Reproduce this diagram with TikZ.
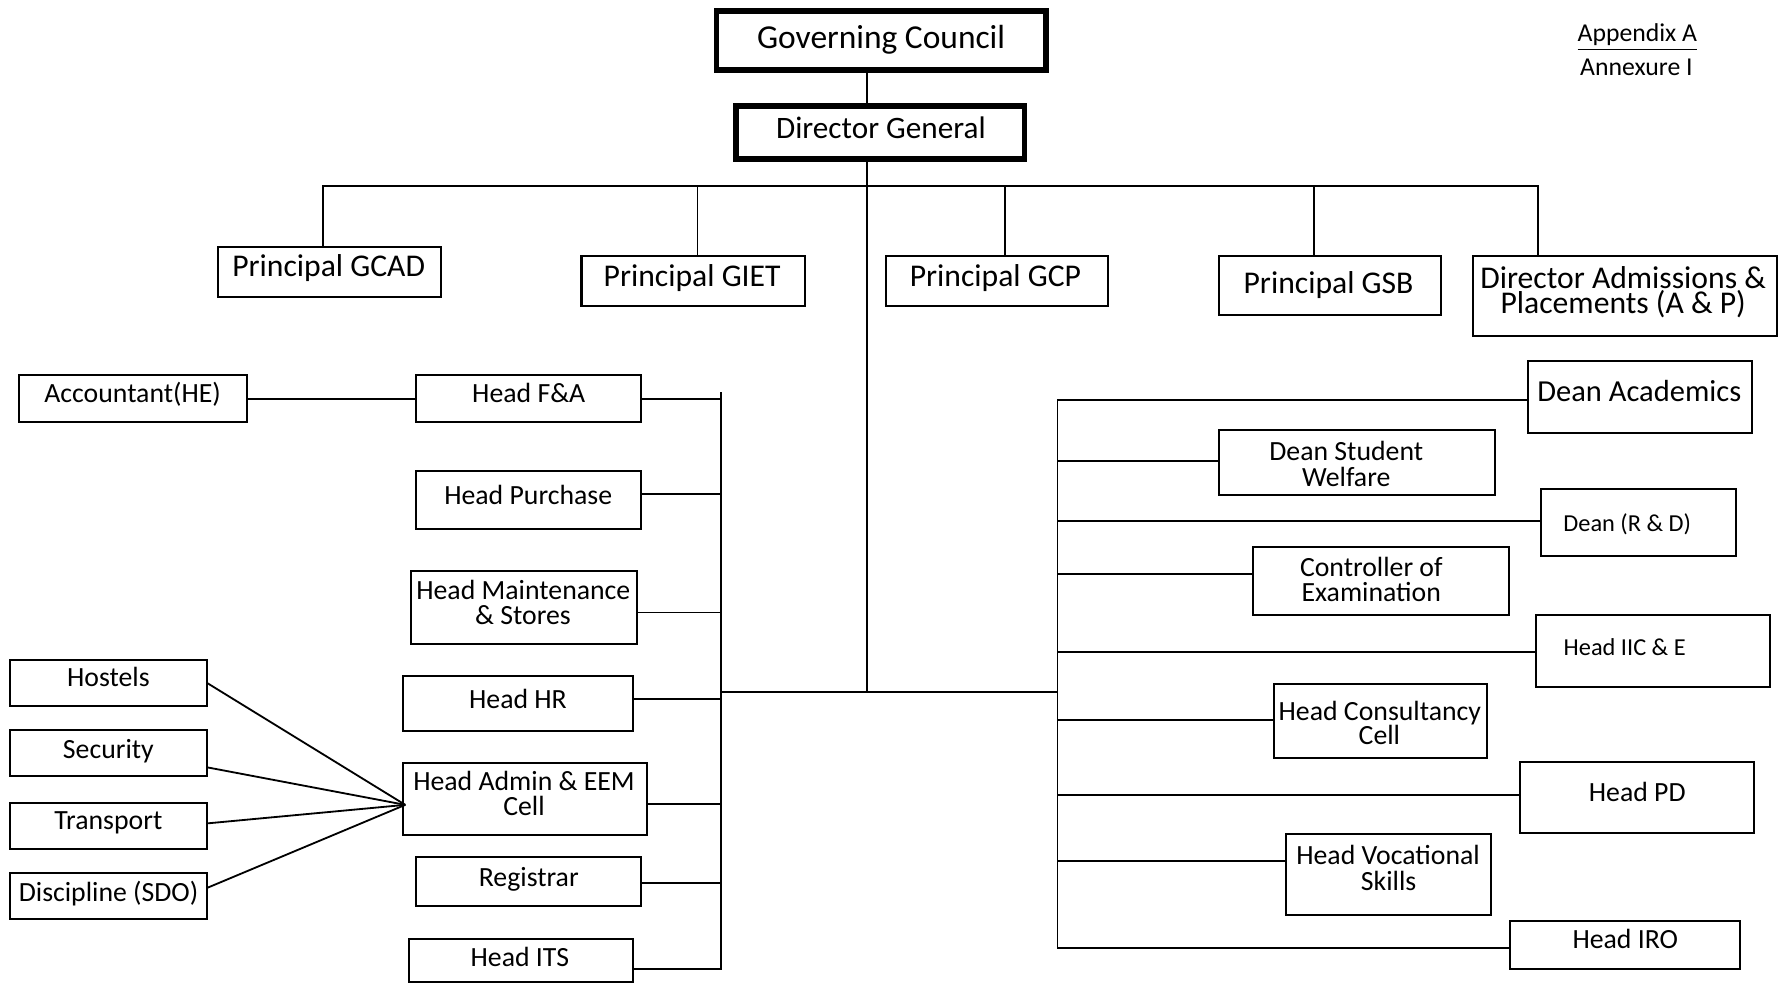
\documentclass[tikz,border=0pt]{standalone}
\usepackage{fontspec}
\setmainfont{Carlito}
\usetikzlibrary{calc}
\newcommand\fGC{\fontsize{14.7}{16}\selectfont}
\newcommand\fDG{\fontsize{13.7}{15}\selectfont}
\newcommand\fP{\fontsize{13.9}{15}\selectfont}
\newcommand\fPtwo{\fontsize{13.9}{11.4}\selectfont}
\newcommand\fDA{\fontsize{13.4}{15}\selectfont}
\newcommand\fR{\fontsize{12.2}{14}\selectfont}
\newcommand\fS{\fontsize{10.7}{12}\selectfont}
\newcommand\fAp{\fontsize{11.3}{13}\selectfont}
\tikzset{
  box/.style={draw, line width=0.9pt, rectangle, inner sep=0pt, outer sep=0pt, anchor=north west},
  topbox/.style={box, line width=2.4pt},
  lbl/.style={inner sep=0pt, outer sep=0pt, anchor=base, font=\fR},
  conn/.style={line width=0.8pt, line join=miter},
}
\newcommand\obox[6][]{\node[box,#1,minimum width={(#5-#3)*0.5pt},minimum height={(#6-#4)*0.5pt}] (#2) at (#3,#4) {};}
\begin{document}
\begin{tikzpicture}[x=0.5pt,y=-0.5pt]
\useasboundingbox (0,0) rectangle (1568,864);
% ---- boxes ----
\obox[topbox]{gc}{629.5}{9.7}{919}{61.5}
\obox[topbox]{dg}{646.5}{93.3}{900}{139.5}
\obox{gcad}{191.6}{216.7}{387.3}{261.2}
\obox{giet}{510.8}{224.6}{707.5}{268.8}
\obox{gcp}{778.1}{224.6}{973.3}{268.8}
\obox{gsb}{1071}{224.6}{1265.7}{276.7}
\obox{dap}{1293.6}{224.6}{1561.3}{294.9}
\obox{acc}{17}{329.7}{216.7}{370.7}
\obox{hfa}{365.3}{329.7}{562.9}{370.7}
\obox{hpur}{365.3}{413.7}{562.9}{464.7}
\obox{hms}{360.7}{501.6}{559.5}{566}
\obox{hhr}{353.8}{593.5}{556.1}{641.9}
\obox{hadm}{353.8}{670}{568}{733.5}
\obox{reg}{365.8}{753.1}{562.9}{795.6}
\obox{hits}{359.4}{824.8}{556.1}{863}
\obox{hos}{9}{579.8}{181.8}{619.9}
\obox{sec}{9}{641.3}{181.8}{681.7}
\obox{tra}{9}{705.1}{181.8}{745.5}
\obox{dis}{9}{767.2}{181.8}{807.6}
\obox{dac}{1342}{317}{1539}{380.6}
\obox{dsw}{1071}{378}{1313}{434.8}
\obox{drd}{1354}{429.8}{1525}{488.4}
\obox{coe}{1100.6}{480.2}{1325.4}{540.2}
\obox{iic}{1349}{540.2}{1554.5}{603.2}
\obox{hcc}{1119.5}{601.1}{1306}{666.1}
\obox{hpd}{1335}{669.6}{1540.4}{731.7}
\obox{hvs}{1129.6}{732.9}{1309.5}{803.8}
\obox{iro}{1326.7}{809}{1528.5}{851.5}
% ---- texts ----
\node[lbl,font=\fGC] (t-gc) at (774,42.5) {Governing Council};
\node[lbl,font=\fDG] (t-dg) at (773.8,121.5) {Director General};
\node[lbl,font=\fP] (t-gcad) at (288.7,243) {Principal GCAD};
\node[lbl,font=\fP] (t-giet) at (608,251.8) {Principal GIET};
\node[lbl,font=\fP] (t-gcp) at (874.4,251.8) {Principal GCP};
\node[lbl,font=\fP] (t-gsb) at (1167,257.7) {Principal GSB};
\node[lbl,font=\fPtwo] (t-dap) at (1425.8,275.6)
  {\begin{tabular}[b]{@{}c@{}}Director Admissions \&\\[-2.4pt]Placements (A \& P)\end{tabular}};
\node[lbl,font=\fAp] (t-app) at (1438.3,36.6) {\underline{Appendix A}};
\node[lbl,font=\fAp] (t-ann) at (1437.5,65.9) {Annexure I};
\node[lbl] (t-acc) at (116.5,353.7) {Accountant(HE)};
\node[lbl] (t-hfa) at (464.5,353.7) {Head F\&A};
\node[lbl] (t-hpur) at (464,443) {Head Purchase};
\node[lbl] (t-hms1) at (459.7,527) {Head Maintenance};
\node[lbl] (t-hms2) at (459.4,549) {\& Stores};
\node[lbl] (t-hos) at (95.2,602.6) {Hostels};
\node[lbl] (t-sec) at (95.2,666) {Security};
\node[lbl] (t-tra) at (95.2,728.5) {Transport};
\node[lbl] (t-dis) at (95.4,792) {Discipline (SDO)};
\node[lbl] (t-hhr) at (455,622.2) {Head HR};
\node[lbl] (t-hadm1) at (460.3,694) {Head Admin \& EEM};
\node[lbl] (t-hadm2) at (460.3,716) {Cell};
\node[lbl] (t-reg) at (464.5,779) {Registrar};
\node[lbl] (t-hits) at (456.7,849) {Head ITS};
\node[lbl,font=\fDA] (t-dac) at (1440,352.8) {Dean Academics};
\node[lbl] (t-dsw1) at (1182.6,404.7) {Dean Student};
\node[lbl] (t-dsw2) at (1182.6,427) {Welfare};
\node[lbl,font=\fS] (t-drd) at (1429.4,467) {Dean (R \& D)};
\node[lbl] (t-coe1) at (1204.6,506.6) {Controller of};
\node[lbl] (t-coe2) at (1204.6,528.5) {Examination};
\node[lbl,font=\fS] (t-iic) at (1427.2,576) {Head IIC \& E};
\node[lbl] (t-hcc1) at (1212.1,632.5) {Head Consultancy};
\node[lbl] (t-hcc2) at (1211.7,654.4) {Cell};
\node[lbl] (t-hpd) at (1438.2,704.2) {Head PD};
\node[lbl] (t-hvs1) at (1219.3,759.8) {Head Vocational};
\node[lbl] (t-hvs2) at (1219.8,781.8) {Skills};
\node[lbl] (t-iro) at (1427.7,833) {Head IRO};
% ---- coordinates ----
\coordinate (tx) at (761.5,0);
\coordinate (trunk) at (761.5,607.6);
\coordinate (b1) at (283.4,163.1);
\coordinate (b2) at (612.7,163.1);
\coordinate (b3) at (882.5,163.1);
\coordinate (b4) at (1154.5,163.1);
\coordinate (b5) at (1350.9,163.1);
\coordinate (Ltop) at (633,344);
\coordinate (L1) at (633,350.5);
\coordinate (L2) at (633,434);
\coordinate (L3) at (633,538);
\coordinate (L4) at (633,613.7);
\coordinate (L5) at (633,706);
\coordinate (L6) at (633,775.4);
\coordinate (L7) at (633,851);
\coordinate (Lt) at (633,607.6);
\coordinate (Rt) at (929,607.6);
\coordinate (R1) at (929,351);
\coordinate (R2) at (929,405);
\coordinate (R3) at (929,458);
\coordinate (R4) at (929,504);
\coordinate (R5) at (929,573);
\coordinate (R6) at (929,632.5);
\coordinate (R7) at (929,698.5);
\coordinate (R8) at (929,756);
\coordinate (R9) at (929,833);
\coordinate (cv) at (356,707);
% ---- connectors ----
\draw[conn] (gc.south -| tx) -- (dg.north -| tx);
\draw[conn] (dg.south -| tx) -- (trunk);
\draw[conn] (gcad.north -| b1) -- (b1) -- (b5) -- (dap.north -| b5);
\draw[conn] (b2) -- (giet.north -| b2);
\draw[conn] (b3) -- (gcp.north -| b3);
\draw[conn] (b4) -- (gsb.north -| b4);
\draw[conn] (Lt) -- (Rt);
% left bus
\draw[conn] (hits.east |- L7) -- (L7) -- (Ltop);
\draw[conn] (hfa.east |- L1) -- (L1);
\draw[conn] (hpur.east |- L2) -- (L2);
\draw[conn] (hms.east |- L3) -- (L3);
\draw[conn] (hhr.east |- L4) -- (L4);
\draw[conn] (hadm.east |- L5) -- (L5);
\draw[conn] (reg.east |- L6) -- (L6);
\draw[conn] (acc.east) -- (hfa.west);
% right bus
\draw[conn] (dac.west |- R1) -- (R1) -- (R9) -- (iro.west |- R9);
\draw[conn] (R2) -- (dsw.west |- R2);
\draw[conn] (R3) -- (drd.west |- R3);
\draw[conn] (R4) -- (coe.west |- R4);
\draw[conn] (R5) -- (iic.west |- R5);
\draw[conn] (R6) -- (hcc.west |- R6);
\draw[conn] (R7) -- (hpd.west |- R7);
\draw[conn] (R8) -- (hvs.west |- R8);
% admin sub-units
\draw[conn] (hos.east) -- (cv);
\draw[conn] ($(sec.east)+(0,12.5)$) -- (cv);
\draw[conn] ($(tra.east)+(0,-2)$) -- (cv);
\draw[conn] ($(dis.east)+(0,-7.4)$) -- (cv);
\end{tikzpicture}
\end{document}
